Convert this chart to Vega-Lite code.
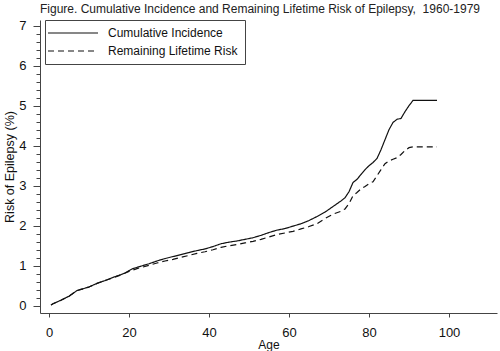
{
  "$schema": "https://vega.github.io/schema/vega-lite/v6.json",
  "autosize": {"type": "none"},
  "width": 457,
  "height": 293,
  "padding": {"left": 40, "top": 20, "right": 3, "bottom": 38},
  "background": "white",
  "config": {
    "view": {"stroke": null},
    "font": "Liberation Sans",
    "axis": {"grid": false, "domainColor": "#444", "tickColor": "#444", "labelColor": "#111", "titleColor": "#111", "labelFont": "Liberation Sans", "titleFont": "Liberation Sans", "titleFontWeight": "normal"}
  },
  "title": {"text": "Figure. Cumulative Incidence and Remaining Lifetime Risk of Epilepsy,\u00a0 1960-1979", "anchor": "start", "frame": "group", "fontSize": 12, "fontWeight": "normal", "color": "#222", "offset": 4, "font": "Liberation Sans"},
  "data": {"values": [
    {"age": 0.5, "risk": 0.02, "series": "Cumulative Incidence"},
    {"age": 1, "risk": 0.05, "series": "Cumulative Incidence"},
    {"age": 3, "risk": 0.14, "series": "Cumulative Incidence"},
    {"age": 5, "risk": 0.24, "series": "Cumulative Incidence"},
    {"age": 7, "risk": 0.38, "series": "Cumulative Incidence"},
    {"age": 8, "risk": 0.41, "series": "Cumulative Incidence"},
    {"age": 10, "risk": 0.47, "series": "Cumulative Incidence"},
    {"age": 12, "risk": 0.56, "series": "Cumulative Incidence"},
    {"age": 14, "risk": 0.63, "series": "Cumulative Incidence"},
    {"age": 16, "risk": 0.71, "series": "Cumulative Incidence"},
    {"age": 18, "risk": 0.78, "series": "Cumulative Incidence"},
    {"age": 19, "risk": 0.82, "series": "Cumulative Incidence"},
    {"age": 20, "risk": 0.88, "series": "Cumulative Incidence"},
    {"age": 21, "risk": 0.93, "series": "Cumulative Incidence"},
    {"age": 23, "risk": 0.99, "series": "Cumulative Incidence"},
    {"age": 25, "risk": 1.05, "series": "Cumulative Incidence"},
    {"age": 27, "risk": 1.12, "series": "Cumulative Incidence"},
    {"age": 29, "risk": 1.18, "series": "Cumulative Incidence"},
    {"age": 31, "risk": 1.23, "series": "Cumulative Incidence"},
    {"age": 33, "risk": 1.28, "series": "Cumulative Incidence"},
    {"age": 35, "risk": 1.33, "series": "Cumulative Incidence"},
    {"age": 37, "risk": 1.38, "series": "Cumulative Incidence"},
    {"age": 39, "risk": 1.42, "series": "Cumulative Incidence"},
    {"age": 41, "risk": 1.48, "series": "Cumulative Incidence"},
    {"age": 43, "risk": 1.55, "series": "Cumulative Incidence"},
    {"age": 45, "risk": 1.59, "series": "Cumulative Incidence"},
    {"age": 47, "risk": 1.62, "series": "Cumulative Incidence"},
    {"age": 49, "risk": 1.66, "series": "Cumulative Incidence"},
    {"age": 51, "risk": 1.70, "series": "Cumulative Incidence"},
    {"age": 53, "risk": 1.76, "series": "Cumulative Incidence"},
    {"age": 55, "risk": 1.83, "series": "Cumulative Incidence"},
    {"age": 57, "risk": 1.89, "series": "Cumulative Incidence"},
    {"age": 59, "risk": 1.93, "series": "Cumulative Incidence"},
    {"age": 61, "risk": 1.99, "series": "Cumulative Incidence"},
    {"age": 63, "risk": 2.05, "series": "Cumulative Incidence"},
    {"age": 65, "risk": 2.13, "series": "Cumulative Incidence"},
    {"age": 67, "risk": 2.23, "series": "Cumulative Incidence"},
    {"age": 69, "risk": 2.34, "series": "Cumulative Incidence"},
    {"age": 71, "risk": 2.48, "series": "Cumulative Incidence"},
    {"age": 73, "risk": 2.62, "series": "Cumulative Incidence"},
    {"age": 74, "risk": 2.70, "series": "Cumulative Incidence"},
    {"age": 75, "risk": 2.85, "series": "Cumulative Incidence"},
    {"age": 76, "risk": 3.08, "series": "Cumulative Incidence"},
    {"age": 77, "risk": 3.16, "series": "Cumulative Incidence"},
    {"age": 78, "risk": 3.28, "series": "Cumulative Incidence"},
    {"age": 79, "risk": 3.40, "series": "Cumulative Incidence"},
    {"age": 80, "risk": 3.50, "series": "Cumulative Incidence"},
    {"age": 81, "risk": 3.58, "series": "Cumulative Incidence"},
    {"age": 82, "risk": 3.68, "series": "Cumulative Incidence"},
    {"age": 83, "risk": 3.90, "series": "Cumulative Incidence"},
    {"age": 84, "risk": 4.15, "series": "Cumulative Incidence"},
    {"age": 85, "risk": 4.40, "series": "Cumulative Incidence"},
    {"age": 86, "risk": 4.58, "series": "Cumulative Incidence"},
    {"age": 87, "risk": 4.66, "series": "Cumulative Incidence"},
    {"age": 88, "risk": 4.68, "series": "Cumulative Incidence"},
    {"age": 89, "risk": 4.85, "series": "Cumulative Incidence"},
    {"age": 90, "risk": 5.00, "series": "Cumulative Incidence"},
    {"age": 91, "risk": 5.13, "series": "Cumulative Incidence"},
    {"age": 97, "risk": 5.13, "series": "Cumulative Incidence"},
    {"age": 0.5, "risk": 0.02, "series": "Remaining Lifetime Risk"},
    {"age": 1, "risk": 0.05, "series": "Remaining Lifetime Risk"},
    {"age": 3, "risk": 0.14, "series": "Remaining Lifetime Risk"},
    {"age": 5, "risk": 0.24, "series": "Remaining Lifetime Risk"},
    {"age": 7, "risk": 0.38, "series": "Remaining Lifetime Risk"},
    {"age": 8, "risk": 0.41, "series": "Remaining Lifetime Risk"},
    {"age": 10, "risk": 0.47, "series": "Remaining Lifetime Risk"},
    {"age": 12, "risk": 0.56, "series": "Remaining Lifetime Risk"},
    {"age": 14, "risk": 0.63, "series": "Remaining Lifetime Risk"},
    {"age": 16, "risk": 0.70, "series": "Remaining Lifetime Risk"},
    {"age": 18, "risk": 0.77, "series": "Remaining Lifetime Risk"},
    {"age": 20, "risk": 0.86, "series": "Remaining Lifetime Risk"},
    {"age": 22, "risk": 0.93, "series": "Remaining Lifetime Risk"},
    {"age": 25, "risk": 1.01, "series": "Remaining Lifetime Risk"},
    {"age": 27, "risk": 1.07, "series": "Remaining Lifetime Risk"},
    {"age": 29, "risk": 1.12, "series": "Remaining Lifetime Risk"},
    {"age": 31, "risk": 1.16, "series": "Remaining Lifetime Risk"},
    {"age": 33, "risk": 1.21, "series": "Remaining Lifetime Risk"},
    {"age": 35, "risk": 1.26, "series": "Remaining Lifetime Risk"},
    {"age": 37, "risk": 1.31, "series": "Remaining Lifetime Risk"},
    {"age": 39, "risk": 1.35, "series": "Remaining Lifetime Risk"},
    {"age": 41, "risk": 1.40, "series": "Remaining Lifetime Risk"},
    {"age": 43, "risk": 1.46, "series": "Remaining Lifetime Risk"},
    {"age": 45, "risk": 1.50, "series": "Remaining Lifetime Risk"},
    {"age": 47, "risk": 1.53, "series": "Remaining Lifetime Risk"},
    {"age": 49, "risk": 1.57, "series": "Remaining Lifetime Risk"},
    {"age": 51, "risk": 1.61, "series": "Remaining Lifetime Risk"},
    {"age": 53, "risk": 1.66, "series": "Remaining Lifetime Risk"},
    {"age": 55, "risk": 1.72, "series": "Remaining Lifetime Risk"},
    {"age": 57, "risk": 1.78, "series": "Remaining Lifetime Risk"},
    {"age": 59, "risk": 1.82, "series": "Remaining Lifetime Risk"},
    {"age": 61, "risk": 1.86, "series": "Remaining Lifetime Risk"},
    {"age": 63, "risk": 1.92, "series": "Remaining Lifetime Risk"},
    {"age": 65, "risk": 1.98, "series": "Remaining Lifetime Risk"},
    {"age": 67, "risk": 2.05, "series": "Remaining Lifetime Risk"},
    {"age": 69, "risk": 2.18, "series": "Remaining Lifetime Risk"},
    {"age": 71, "risk": 2.29, "series": "Remaining Lifetime Risk"},
    {"age": 73, "risk": 2.36, "series": "Remaining Lifetime Risk"},
    {"age": 74, "risk": 2.42, "series": "Remaining Lifetime Risk"},
    {"age": 75, "risk": 2.55, "series": "Remaining Lifetime Risk"},
    {"age": 76, "risk": 2.75, "series": "Remaining Lifetime Risk"},
    {"age": 77, "risk": 2.83, "series": "Remaining Lifetime Risk"},
    {"age": 78, "risk": 2.92, "series": "Remaining Lifetime Risk"},
    {"age": 79, "risk": 2.98, "series": "Remaining Lifetime Risk"},
    {"age": 80, "risk": 3.05, "series": "Remaining Lifetime Risk"},
    {"age": 81, "risk": 3.10, "series": "Remaining Lifetime Risk"},
    {"age": 82, "risk": 3.25, "series": "Remaining Lifetime Risk"},
    {"age": 83, "risk": 3.40, "series": "Remaining Lifetime Risk"},
    {"age": 84, "risk": 3.55, "series": "Remaining Lifetime Risk"},
    {"age": 85, "risk": 3.62, "series": "Remaining Lifetime Risk"},
    {"age": 86, "risk": 3.66, "series": "Remaining Lifetime Risk"},
    {"age": 87, "risk": 3.70, "series": "Remaining Lifetime Risk"},
    {"age": 88, "risk": 3.78, "series": "Remaining Lifetime Risk"},
    {"age": 89, "risk": 3.88, "series": "Remaining Lifetime Risk"},
    {"age": 90, "risk": 3.95, "series": "Remaining Lifetime Risk"},
    {"age": 91, "risk": 3.97, "series": "Remaining Lifetime Risk"},
    {"age": 97, "risk": 3.97, "series": "Remaining Lifetime Risk"}
  ]},
  "mark": {"type": "line", "color": "#111", "strokeWidth": 1.2},
  "encoding": {
    "x": {"field": "age", "type": "quantitative", "scale": {"domain": [-2.25, 112], "nice": false, "zero": false},
      "axis": {"title": "Age", "values": [0, 20, 40, 60, 80, 100], "tickSize": 4, "labelFontSize": 13, "titleFontSize": 12, "labelPadding": 9, "titlePadding": 0}},
    "y": {"field": "risk", "type": "quantitative", "scale": {"domain": [-0.18, 7.14], "nice": false, "zero": false},
      "axis": {"title": "Risk of Epilepsy (%)", "orient": "left",
        "values": [0, 0.2, 0.4, 0.6, 0.8, 1, 1.2, 1.4, 1.6, 1.8, 2, 2.2, 2.4, 2.6, 2.8, 3, 3.2, 3.4, 3.6, 3.8, 4, 4.2, 4.4, 4.6, 4.8, 5, 5.2, 5.4, 5.6, 5.8, 6, 6.2, 6.4, 6.6, 6.8, 7],
        "labelExpr": "abs(datum.value - round(datum.value)) < 0.01 ? format(datum.value, 'd') : ''",
        "labelOverlap": false,
        "tickSize": {"condition": {"test": "abs(datum.value - round(datum.value)) < 0.01", "value": 7}, "value": 4},
        "labelFontSize": 13, "titleFontSize": 12.5, "labelPadding": 7, "titlePadding": 2}},
    "strokeDash": {"field": "series", "type": "nominal",
      "scale": {"domain": ["Cumulative Incidence", "Remaining Lifetime Risk"], "range": [[1, 0], [6, 4]]},
      "legend": {"title": null, "orient": "none", "legendX": 5, "legendY": 0, "symbolType": "M-5,0H5", "symbolSize": 100, "symbolOffset": 15, "symbolStrokeWidth": 1.2, "symbolStrokeColor": "#111", "labelFontSize": 12, "labelFont": "Liberation Sans", "labelColor": "#111", "fillColor": "white", "strokeColor": "#444", "padding": 7, "rowPadding": 6, "labelOffset": 29}},
    "detail": {"field": "series"}
  }
}
